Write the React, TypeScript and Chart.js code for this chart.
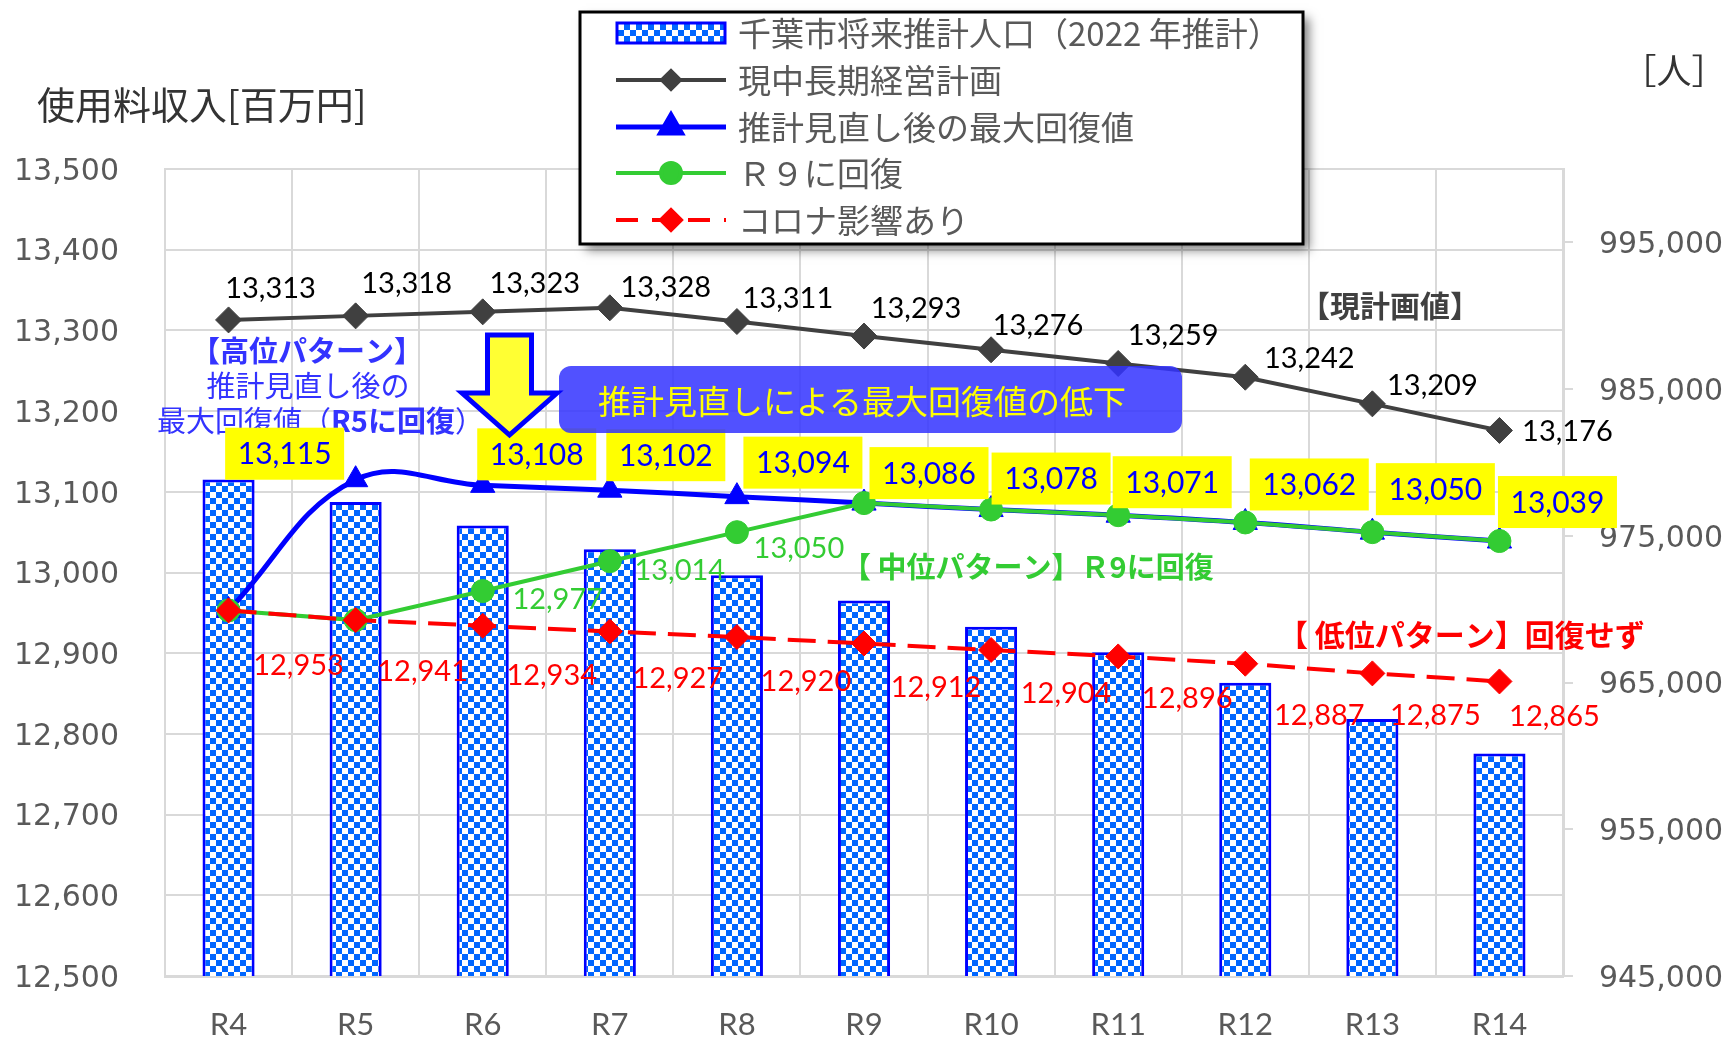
import { useEffect, useRef } from "react";
import { Chart, registerables } from "chart.js";
import { drawPoint } from "chart.js/helpers";

Chart.register(...registerables);

// Fiscal years (Reiwa)
const fiscalYears = ["R4", "R5", "R6", "R7", "R8", "R9", "R10", "R11", "R12", "R13", "R14"];

// 千葉市将来推計人口（2022年推計）[人] — right axis
const cityPopulation = [978840, 977300, 975710, 974080, 972320, 970600, 968810, 967070, 964980, 962520, 960160];

// 使用料収入 [百万円] — left axis
const currentPlan = [13313, 13318, 13323, 13328, 13311, 13293, 13276, 13259, 13242, 13209, 13176];
const maxRecovery = [12953, 13115, 13108, 13102, 13094, 13086, 13078, 13071, 13062, 13050, 13039];
const recoverByR9 = [12953, 12941, 12977, 13014, 13050, 13086, 13078, 13071, 13062, 13050, 13039];
const covidImpact = [12953, 12941, 12934, 12927, 12920, 12912, 12904, 12896, 12887, 12875, 12865];

// Axis tick values
const revenueTicks = [12500, 12600, 12700, 12800, 12900, 13000, 13100, 13200, 13300, 13400, 13500];
const populationTicks = [945000, 955000, 965000, 975000, 985000, 995000];

// Series names
const seriesNames = ["千葉市将来推計人口（2022 年推計）", "現中長期経営計画", "推計見直し後の最大回復値", "Ｒ９に回復", "コロナ影響あり"];

// Value-label placement (pixel offsets from each point)
const planLabelShift: [number, number][] = [[42, -31], [51, -32], [52, -28], [56, -20], [51, -23], [52, -27], [47, -24], [55, -28], [64, -19], [60, -18], [68, 1]];
const maxLabelShift: ([number, number] | null)[] = [null, [-71, -26], [54, -31], [56, -35], [66, -34], [65, -30], [60, -31], [54, -33], [64, -38], [63, -43], [58, -39]];
const r9LabelShift: ([number, number] | null)[] = [null, null, [75, 9], [70, 9], [62, 16], null, null, null, null, null, null];
const covidLabelShift: [number, number][] = [[70, 55], [67, 52], [69, 50], [68, 47], [69, 45], [72, 44], [75, 44], [69, 42], [74, 52], [63, 42], [55, 35]];

const CJK = "'Noto Sans CJK JP', sans-serif";
const NUM = "Lato, sans-serif";
const fmt = (v: number) => v.toLocaleString("en-US");

function roundRectPath(ctx: CanvasRenderingContext2D, x: number, y: number, w: number, h: number, r: number) {
  ctx.beginPath();
  ctx.moveTo(x + r, y);
  ctx.arcTo(x + w, y, x + w, y + h, r);
  ctx.arcTo(x + w, y + h, x, y + h, r);
  ctx.arcTo(x, y + h, x, y, r);
  ctx.arcTo(x, y, x + w, y, r);
  ctx.closePath();
}

export default function App() {
  const canvasRef = useRef<HTMLCanvasElement | null>(null);

  useEffect(() => {
    const canvas = canvasRef.current;
    if (!canvas) return;
    const mainCtx = canvas.getContext("2d");
    if (!mainCtx) return;

    // blue / white checkerboard fill for the population bars
    const tile = document.createElement("canvas");
    tile.width = 12;
    tile.height = 12;
    const tctx = tile.getContext("2d")!;
    tctx.fillStyle = "#FFFFFF";
    tctx.fillRect(0, 0, 12, 12);
    tctx.fillStyle = "#0066FF";
    tctx.fillRect(0, 0, 6, 6);
    tctx.fillRect(6, 6, 6, 6);
    const checker = mainCtx.createPattern(tile, "repeat") ?? "#0066FF";

    const overlay = {
      id: "overlay",
      afterDatasetsDraw(chart: any) {
        const ctx: CanvasRenderingContext2D = chart.ctx;
        const pts = (i: number) => chart.getDatasetMeta(i).data as any[];
        ctx.save();

        // axis captions
        ctx.textBaseline = "middle";
        ctx.textAlign = "left";
        ctx.fillStyle = "#333333";
        ctx.font = `38px ${CJK}`;
        ctx.fillText("使用料収入[百万円]", 37, 105);
        ctx.textAlign = "center";
        ctx.font = `35px ${CJK}`;
        ctx.fillText("［人］", 1674, 71);

        // pattern captions
        ctx.fillStyle = "#3333FF";
        ctx.font = `bold 29px ${CJK}`;
        ctx.fillText("【高位パターン】", 307, 351);
        ctx.font = `29px ${CJK}`;
        ctx.fillText("推計見直し後の", 308, 386);
        ctx.textAlign = "left";
        let x = 157;
        ctx.font = `29px ${CJK}`;
        ctx.fillText("最大回復値（", x, 421);
        x += ctx.measureText("最大回復値（").width;
        ctx.font = `bold 29px ${CJK}`;
        ctx.fillText("R5に回復", x, 421);
        x += ctx.measureText("R5に回復").width;
        ctx.font = `29px ${CJK}`;
        ctx.fillText("）", x, 421);

        ctx.textAlign = "center";
        ctx.fillStyle = "#404040";
        ctx.font = `bold 30px ${CJK}`;
        ctx.fillText("【現計画値】", 1390, 306);
        ctx.textAlign = "left";
        ctx.font = `bold 29px ${CJK}`;
        ctx.fillStyle = "#33CC33";
        ctx.fillText("【 中位パターン】Ｒ9に回復", 842, 567);
        ctx.font = `bold 30px ${CJK}`;
        ctx.fillStyle = "#FF0000";
        ctx.fillText("【 低位パターン】回復せず", 1278, 635);

        // value labels
        ctx.textAlign = "center";
        ctx.font = `29px ${NUM}`;
        const plan = pts(1);
        ctx.fillStyle = "#000000";
        currentPlan.forEach((v, i) => {
          const [dx, dy] = planLabelShift[i];
          ctx.fillText(fmt(v), plan[i].x + dx, plan[i].y + dy);
        });
        const r9 = pts(3);
        ctx.fillStyle = "#33CC33";
        recoverByR9.forEach((v, i) => {
          const s = r9LabelShift[i];
          if (!s) return;
          ctx.fillText(fmt(v), r9[i].x + s[0], r9[i].y + s[1]);
        });
        const covid = pts(4);
        ctx.fillStyle = "#FF0000";
        covidImpact.forEach((v, i) => {
          const [dx, dy] = covidLabelShift[i];
          ctx.fillText(fmt(v), covid[i].x + dx, covid[i].y + dy);
        });
        const mx = pts(2);
        ctx.font = `30px ${NUM}`;
        maxRecovery.forEach((v, i) => {
          const s = maxLabelShift[i];
          if (!s) return;
          const cx = mx[i].x + s[0];
          const cy = mx[i].y + s[1];
          ctx.fillStyle = "#FFFF00";
          ctx.fillRect(cx - 59.5, cy - 26, 119, 52);
          ctx.fillStyle = "#0000FF";
          ctx.fillText(fmt(v), cx, cy + 1);
        });

        // callout box
        roundRectPath(ctx, 559, 366, 623, 67, 12);
        ctx.fillStyle = "rgba(51,51,255,0.85)";
        ctx.fill();
        ctx.fillStyle = "#FFFF00";
        ctx.font = `33px ${CJK}`;
        ctx.fillText("推計見直しによる最大回復値の低下", 862, 401);

        // down arrow
        ctx.beginPath();
        ctx.moveTo(487.5, 335);
        ctx.lineTo(531.5, 335);
        ctx.lineTo(531.5, 393);
        ctx.lineTo(557, 393);
        ctx.lineTo(509.5, 435);
        ctx.lineTo(462, 393);
        ctx.lineTo(487.5, 393);
        ctx.closePath();
        ctx.fillStyle = "#FFFF33";
        ctx.fill();
        ctx.lineWidth = 5;
        ctx.lineJoin = "miter";
        ctx.strokeStyle = "#0000FF";
        ctx.stroke();

        ctx.restore();
      },
      afterDraw(chart: any) {
        const ctx: CanvasRenderingContext2D = chart.ctx;
        const ds = chart.data.datasets;
        ctx.save();
        const bx = 580, by = 12, bw = 723, bh = 232;
        ctx.save();
        ctx.shadowColor = "rgba(0,0,0,0.5)";
        ctx.shadowBlur = 10;
        ctx.shadowOffsetX = 6;
        ctx.shadowOffsetY = 6;
        ctx.fillStyle = "#FFFFFF";
        ctx.fillRect(bx, by, bw, bh);
        ctx.restore();
        ctx.lineWidth = 3;
        ctx.strokeStyle = "#000000";
        ctx.strokeRect(bx, by, bw, bh);

        const rows = [33, 80, 127, 173, 220];
        const x0 = 616, x1 = 726, xm = 671;
        const markerRadius = [0, 9, 12, 10, 10];
        rows.forEach((ry, i) => {
          const d = ds[i];
          if (i === 0) {
            ctx.fillStyle = d.backgroundColor;
            ctx.fillRect(x0 + 1, ry - 10, x1 - x0 - 2, 20);
            ctx.lineWidth = 3;
            ctx.strokeStyle = d.borderColor;
            ctx.strokeRect(x0 + 1, ry - 10, x1 - x0 - 2, 20);
          } else {
            ctx.beginPath();
            ctx.setLineDash(d.borderDash ? [22, 14] : []);
            ctx.lineWidth = d.borderWidth;
            ctx.strokeStyle = d.borderColor;
            ctx.moveTo(x0, ry);
            ctx.lineTo(x1, ry);
            ctx.stroke();
            ctx.setLineDash([]);
            ctx.fillStyle = d.backgroundColor;
            ctx.strokeStyle = d.borderColor;
            drawPoint(ctx, { pointStyle: d.pointStyle, radius: markerRadius[i], borderWidth: 1, rotation: 0 } as any, xm, ry);
          }
          ctx.fillStyle = "#595959";
          ctx.font = `33px ${CJK}`;
          ctx.textAlign = "left";
          ctx.textBaseline = "middle";
          ctx.fillText(seriesNames[i], 738, ry);
        });
        ctx.restore();
      },
    };

    const chart = new Chart(canvas, {
      type: "bar",
      data: {
        labels: fiscalYears,
        datasets: [
          {
            type: "bar",
            label: seriesNames[0],
            data: cityPopulation,
            yAxisID: "y1",
            backgroundColor: checker as any,
            borderColor: "#0000FF",
            borderWidth: 3,
            barPercentage: 0.41,
            categoryPercentage: 1,
            order: 5,
          },
          {
            type: "line",
            label: seriesNames[1],
            data: currentPlan,
            yAxisID: "y",
            borderColor: "#404040",
            backgroundColor: "#404040",
            borderWidth: 4,
            pointStyle: "rectRot",
            pointRadius: 13,
            pointBorderWidth: 1,
            tension: 0,
            order: 4,
          },
          {
            type: "line",
            label: seriesNames[2],
            data: maxRecovery,
            yAxisID: "y",
            borderColor: "#0000FF",
            backgroundColor: "#0000FF",
            borderWidth: 5,
            pointStyle: "triangle",
            pointRadius: 14,
            pointBorderWidth: 1,
            tension: 0.4,
            order: 3,
          },
          {
            type: "line",
            label: seriesNames[3],
            data: recoverByR9,
            yAxisID: "y",
            borderColor: "#33CC33",
            backgroundColor: "#33CC33",
            borderWidth: 4,
            pointStyle: "circle",
            pointRadius: 11.5,
            pointBorderWidth: 1,
            tension: 0,
            order: 2,
          },
          {
            type: "line",
            label: seriesNames[4],
            data: covidImpact,
            yAxisID: "y",
            borderColor: "#FF0000",
            backgroundColor: "#FF0000",
            borderWidth: 4,
            borderDash: [28, 12],
            pointStyle: "rectRot",
            pointRadius: 12.5,
            pointBorderWidth: 1,
            tension: 0,
            order: 1,
          },
        ] as any,
      },
      options: {
        responsive: false,
        animation: false,
        events: [],
        layout: { padding: { top: 169, left: 0, right: 0, bottom: 0 } },
        plugins: { legend: { display: false }, tooltip: { enabled: false } },
        scales: {
          x: {
            type: "category",
            offset: true,
            grid: { offset: true, color: "#D9D9D9", lineWidth: 2, drawTicks: false },
            border: { display: true, color: "#D9D9D9", width: 3 },
            ticks: { color: "#595959", font: { family: NUM, size: 31 }, padding: 30, maxRotation: 0, autoSkip: false },
            afterFit: (s: any) => {
              s.height = 61;
            },
          },
          y: {
            type: "linear",
            position: "left",
            min: 12500,
            max: 13500,
            afterBuildTicks: (s: any) => {
              s.ticks = revenueTicks.map((v) => ({ value: v }));
            },
            grid: { color: "#D9D9D9", lineWidth: 2, drawTicks: false },
            border: { display: true, color: "#D9D9D9", width: 2 },
            ticks: {
              color: "#595959",
              font: { family: "'DejaVu Sans', sans-serif", size: 30 },
              padding: 46,
              labelOffset: 3,
              callback: (v: any) => fmt(Number(v)),
            },
            afterFit: (s: any) => {
              s.width = 165;
            },
          },
          y1: {
            type: "linear",
            position: "right",
            min: 945000,
            max: 1000000,
            afterBuildTicks: (s: any) => {
              s.ticks = populationTicks.map((v) => ({ value: v }));
            },
            grid: { drawOnChartArea: false, color: "#D9D9D9", lineWidth: 2, tickLength: 10 },
            border: { display: true, color: "#D9D9D9", width: 3 },
            ticks: {
              color: "#595959",
              font: { family: "'DejaVu Sans', sans-serif", size: 30 },
              padding: 26,
              labelOffset: 3,
              callback: (v: any) => fmt(Number(v)),
            },
            afterFit: (s: any) => {
              s.width = 168;
            },
          },
        },
      } as any,
      plugins: [overlay],
    });

    return () => {
      chart.destroy();
    };
  }, []);

  return (
    <div style={{ position: "absolute", left: 0, top: 0, width: 1731, height: 1040, background: "#FFFFFF" }}>
      <canvas ref={canvasRef} width={1731} height={1040} style={{ width: 1731, height: 1040, display: "block" }} />
    </div>
  );
}
